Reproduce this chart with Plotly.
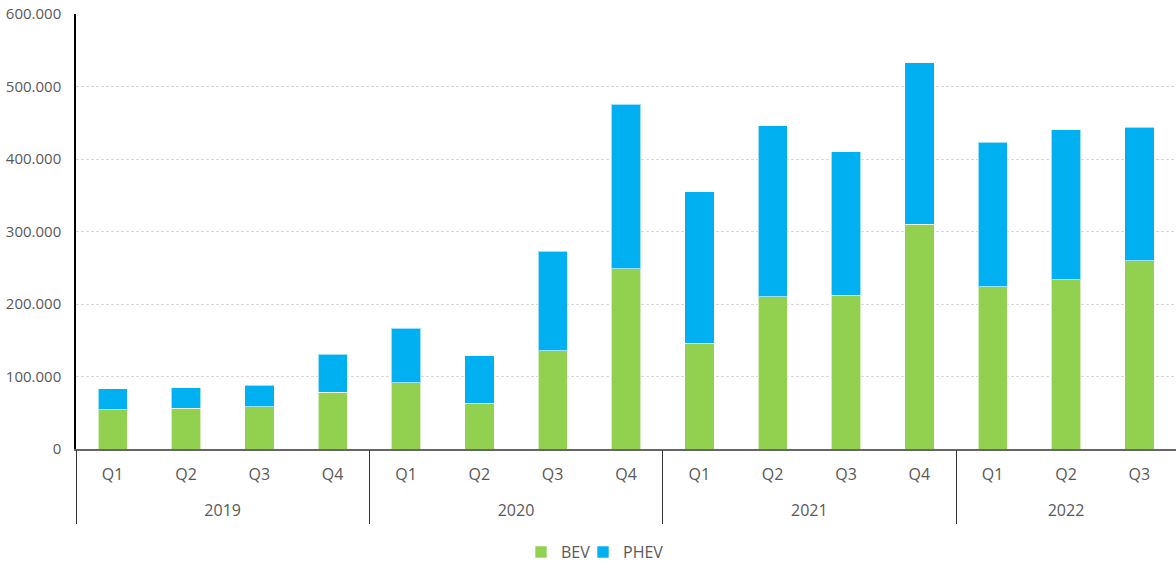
import plotly.graph_objects as go

years = ["2019"] * 4 + ["2020"] * 4 + ["2021"] * 4 + ["2022"] * 3
quarters = ["Q1", "Q2", "Q3", "Q4"] * 3 + ["Q1", "Q2", "Q3"]
bev = [54300, 56100, 58400, 78100, 91400, 62900, 135600, 248700,
       145700, 210000, 212400, 309800, 223900, 233500, 259700]
total = [83200, 84600, 87700, 130900, 166900, 128700, 273100, 475300,
         354500, 446000, 409700, 532800, 423000, 440500, 443700]
phev = [t - b for t, b in zip(total, bev)]
y_ticks = [0, 100000, 200000, 300000, 400000, 500000, 600000]

font_family = "Open Sans"
text_color = "#595959"

# unique category per bar; shown as quarter on the main axis
cats = [f"{y}-{q}" for y, q in zip(years, quarters)]

# year groups derived from the data (category index positions)
year_names = list(dict.fromkeys(years))
year_idx = [[i for i, y in enumerate(years) if y == yn] for yn in year_names]
year_centers = [sum(ix) / len(ix) for ix in year_idx]
bounds = [ix[0] - 0.5 for ix in year_idx] + [year_idx[-1][-1] + 0.5]

fig = go.Figure()
fig.add_trace(go.Bar(x=cats, y=bev, name="BEV", legend="legend",
                     marker=dict(color="#92D050", line=dict(color="rgba(255,255,255,0.6)", width=1))))
fig.add_trace(go.Bar(x=cats, y=phev, name="PHEV", legend="legend2",
                     marker=dict(color="#00B0F0", line=dict(color="rgba(255,255,255,0.6)", width=1))))
# carrier for the year axis (invisible)
fig.add_trace(go.Scatter(x=year_centers, y=[0] * len(year_centers), xaxis="x2", yaxis="y",
                         mode="markers", marker=dict(opacity=0), showlegend=False,
                         hoverinfo="skip"))

legend_common = dict(orientation="h", xanchor="left", y=-0.237, yanchor="middle",
                     font=dict(size=16, color=text_color), itemwidth=30,
                     bgcolor="rgba(0,0,0,0)")

fig.update_layout(
    width=1176, height=563,
    barmode="stack", bargap=0.6,
    separators=",.",
    margin=dict(l=76, r=0, t=14, b=114, autoexpand=False),
    plot_bgcolor="white", paper_bgcolor="white",
    font=dict(family=font_family, size=16, color=text_color),
    showlegend=True,
    legend=dict(legend_common, x=(521 - 76) / 1100),
    legend2=dict(legend_common, x=(583 - 76) / 1100),
    xaxis=dict(type="category", showline=True, linecolor="#666666", linewidth=1.5,
               tickmode="array", tickvals=cats, ticktext=quarters,
               ticks="", ticklabelstandoff=10,
               tickfont=dict(size=16, color=text_color), showgrid=False,
               range=[-0.5, len(cats) - 0.5], automargin=False),
    xaxis2=dict(type="linear", overlaying="x", anchor="y", side="bottom",
                range=[-0.5, len(cats) - 0.5], showline=False, showgrid=False, zeroline=False,
                tickmode="array", tickvals=year_centers, ticktext=year_names,
                ticks="", ticklabelstandoff=50,
                tickfont=dict(size=16, color=text_color),
                minor=dict(tickmode="array", tickvals=bounds, ticks="outside",
                           ticklen=74, tickwidth=1, tickcolor="#333333", showgrid=False),
                automargin=False),
    yaxis=dict(range=[0, 600000], tickvals=y_ticks, tickformat=",d",
               showline=True, linecolor="black", linewidth=1.5,
               showgrid=True, gridcolor="#d9d9d9", griddash="3px,2px", gridwidth=1,
               zeroline=False, ticklabelstandoff=10, automargin=False,
               tickfont=dict(size=15, color=text_color)),
)

fig.write_html("out.html", post_script="document.body.style.margin='0';",
               config={"displayModeBar": False})
